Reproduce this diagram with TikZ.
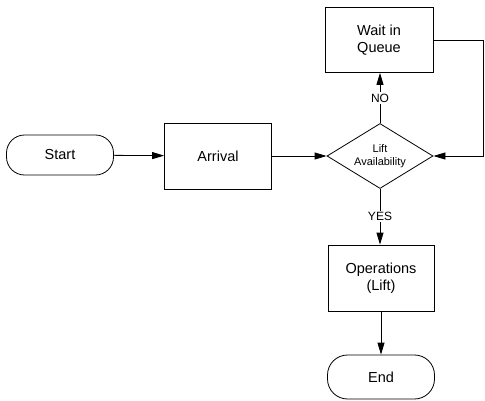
\documentclass[tikz,border=0pt]{standalone}
\usepackage{fontspec}
\setmainfont{Liberation Sans}
\usetikzlibrary{arrows.meta,shapes.geometric}
\tikzset{
  block/.style={draw,rectangle,minimum width=107pt,minimum height=66pt,align=center,font=\fontsize{14.5}{17.5}\selectfont},
  terminal/.style={draw,rectangle,rounded corners=18pt,minimum width=107pt,minimum height=40pt,font=\fontsize{14.5}{17.5}\selectfont},
  decision/.style={draw,diamond,aspect=1.63,inner sep=0pt,minimum width=106pt,minimum height=65pt,align=center,font=\fontsize{11}{13}\selectfont},
  answer/.style={fill=white,inner sep=1.5pt,font=\fontsize{12}{14}\selectfont}
}

\begin{document}
\begin{tikzpicture}[x=1pt,y=-1pt,>={Triangle[length=12pt,width=7pt]},line width=0.8pt]
  \useasboundingbox (0,0) rectangle (485,401);
  \node[terminal] (start) at (60,155) {Start};
  \node[block] (arrival) at (218,156) {Arrival};
  \node[decision] (lift) at (380,156) {Lift\\Availability};
  \node[block,minimum width=108pt,minimum height=65pt] (wait) at (379,40) {Wait in\\Queue};
  \node[block,minimum width=106pt] (ops) at (381,278) {Operations\\(Lift)};
  \node[terminal,minimum height=44pt,rounded corners=20pt] (stop) at (381,377) {End};
  \coordinate (qtop) at (483.5,40);
  \coordinate (qbot) at (483.5,156);

  \draw[->] (start) -- (arrival);
  \draw[->] (arrival) -- (lift);
  \draw[->] (lift.north) -- node[answer]{NO} (lift.north |- wait.south);
  \draw[->] (wait.east) -- (qtop) -- (qbot) -- (lift.east);
  \draw[->] (lift.south) -- node[answer]{YES} (lift.south |- ops.north);
  \draw[->] (ops) -- (stop);
\end{tikzpicture}
\end{document}
